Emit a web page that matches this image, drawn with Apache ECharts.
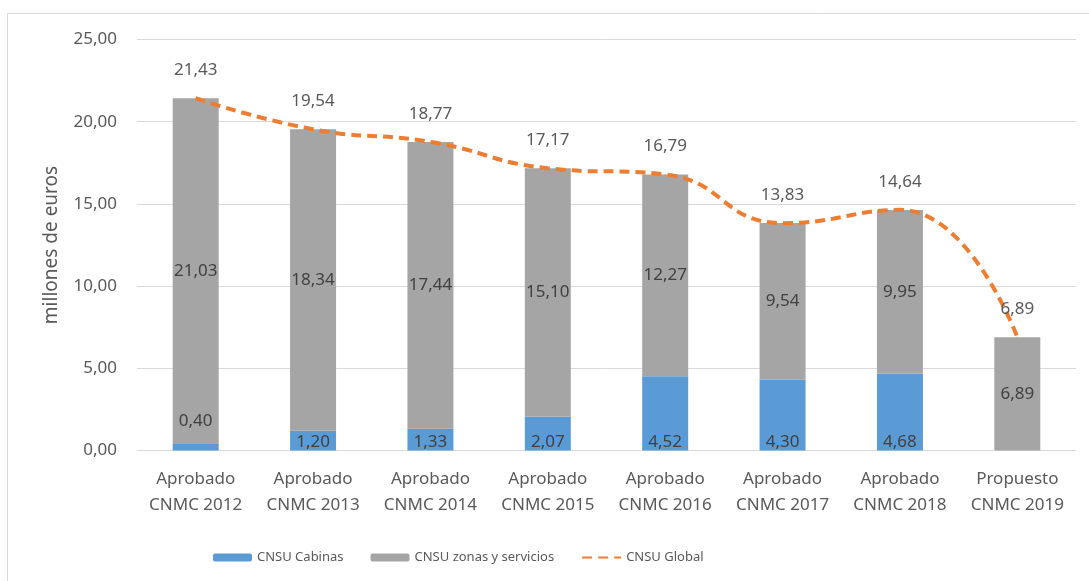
<!DOCTYPE html>
<html>
<head>
<meta charset="utf-8">
<title>CNSU</title>
<script src="https://cdn.jsdelivr.net/npm/echarts@6/dist/echarts.min.js"></script>
<style>
    html, body { margin: 0; padding: 0; background: #fff; }
    #chart { width: 1089px; height: 581px; }
</style>
</head>
<body>
<div id="chart"></div>
<script>
// categorías y valores (millones de euros)
const categories = [
    'Aprobado\nCNMC 2012', 'Aprobado\nCNMC 2013', 'Aprobado\nCNMC 2014', 'Aprobado\nCNMC 2015',
    'Aprobado\nCNMC 2016', 'Aprobado\nCNMC 2017', 'Aprobado\nCNMC 2018', 'Propuesto\nCNMC 2019'
];
const cabinas = [0.40, 1.20, 1.33, 2.07, 4.52, 4.30, 4.68, null];
const zonas = [21.03, 18.34, 17.44, 15.10, 12.27, 9.54, 9.95, 6.89];
const globalTotal = [21.43, 19.54, 18.77, 17.17, 16.79, 13.83, 14.64, 6.89];
const yTicks = [0, 5, 10, 15, 20, 25];

const FONT = '"Noto Sans", sans-serif';
const fmt = (v) => v.toFixed(2).replace('.', ',');

const chart = echarts.init(document.getElementById('chart'));

// la etiqueta 0,40 va encima de la barra (es muy pequeña)
const cabinasData = cabinas.map((v, i) => {
    if (v === null) return null;
    if (i === 0) {
        return { value: v, label: { position: 'top', distance: 14 } };
    }
    return v;
});

const option = {
    animation: false,
    textStyle: { fontFamily: FONT },
    graphic: [
        {
            type: 'rect',
            shape: { x: 7.5, y: 13.5, width: 1200, height: 700 },
            style: { fill: 'none', stroke: '#d9d9d9', lineWidth: 1 },
            silent: true,
        },
    ],
    grid: {
        left: 137,
        right: 13,
        top: 39.5,
        bottom: 130.5,
    },
    legend: {
        left: 208,
        top: 546,
        itemWidth: 39,
        itemHeight: 8,
        itemGap: 27,
        textStyle: { fontSize: 13, color: '#595959', fontFamily: FONT },
        data: [
            'CNSU Cabinas',
            'CNSU zonas y servicios',
            { name: 'CNSU Global', itemStyle: { opacity: 0 } },
        ],
    },
    xAxis: {
        type: 'category',
        data: categories,
        axisTick: { show: false },
        axisLine: { lineStyle: { color: '#d9d9d9', width: 1 } },
        axisLabel: {
            color: '#595959',
            fontSize: 17,
            lineHeight: 26,
            margin: 16,
            interval: 0,
            fontFamily: FONT,
        },
    },
    yAxis: {
        type: 'value',
        min: yTicks[0],
        max: yTicks[yTicks.length - 1],
        interval: 5,
        name: 'millones de euros',
        nameLocation: 'middle',
        nameGap: 76,
        nameTextStyle: { color: '#595959', fontSize: 19, fontFamily: FONT },
        axisLine: { show: false },
        axisTick: { show: false },
        axisLabel: {
            color: '#595959',
            fontSize: 17,
            margin: 20,
            formatter: (v) => fmt(v),
        },
        splitLine: { lineStyle: { color: '#d9d9d9', width: 1 } },
    },
    series: [
        {
            name: 'CNSU Cabinas',
            type: 'bar',
            stack: 'total',
            barWidth: 46,
            itemStyle: { color: '#5b9bd5' },
            label: {
                show: true,
                position: 'insideBottom',
                distance: 0,
                color: '#404040',
                fontSize: 17,
                formatter: (p) => fmt(p.value),
            },
            data: cabinasData,
        },
        {
            name: 'CNSU zonas y servicios',
            type: 'bar',
            stack: 'total',
            barWidth: 46,
            itemStyle: { color: '#a5a5a5' },
            label: {
                show: true,
                position: 'inside',
                color: '#404040',
                fontSize: 17,
                formatter: (p) => fmt(p.value),
            },
            data: zonas,
        },
        {
            name: 'CNSU Global',
            type: 'line',
            smooth: 0.5,
            symbol: 'circle',
            symbolSize: 1,
            showSymbol: true,
            z: 5,
            lineStyle: { color: '#ed7d31', width: 4, type: [10, 6] },
            itemStyle: { color: '#ed7d31' },
            label: {
                show: true,
                position: 'top',
                distance: 19,
                color: '#595959',
                fontSize: 17,
                formatter: (p) => fmt(p.value),
            },
            labelLayout: { hideOverlap: false },
            data: globalTotal,
        },
    ],
};

chart.setOption(option);
</script>
</body>
</html>
